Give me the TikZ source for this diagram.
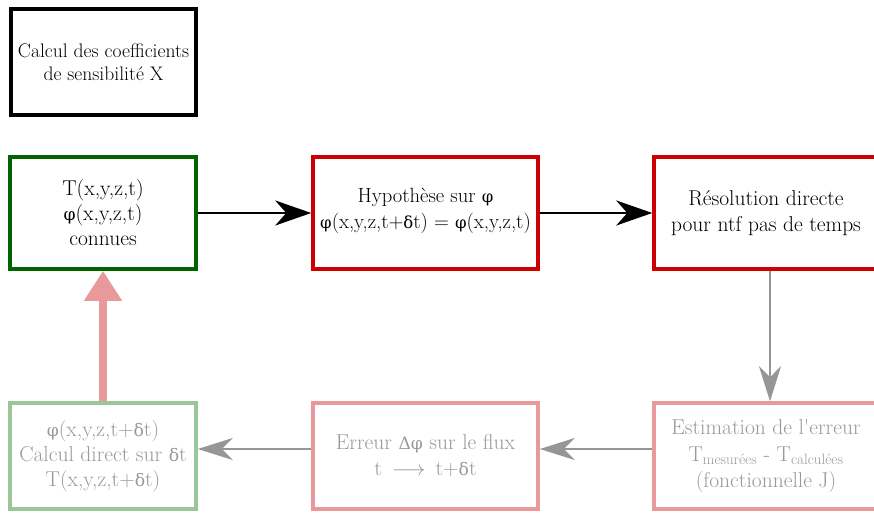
\documentclass[tikz,border=0pt]{standalone}
\usepackage{fontspec}
\newfontfamily\grk{DejaVu Serif}[Scale=0.8]
\newcommand{\gphi}{{\grk φ}}
\newcommand{\gdel}{{\grk δ}}
\newcommand{\gDel}{{\grk Δ}}
\usetikzlibrary{arrows.meta}
\definecolor{dgreen}{RGB}{0,100,0}
\definecolor{dred}{RGB}{204,0,0}
\definecolor{lgreen}{RGB}{153,199,153}
\definecolor{lpink}{RGB}{232,153,154}
\definecolor{tgray}{RGB}{153,153,153}
\definecolor{agray}{RGB}{150,150,150}
\tikzset{
  box/.style={draw, line width=3.5pt, align=center, inner sep=0pt,
    font=\fontsize{21.5}{26}\selectfont},
  darrow/.style={line width=2.4pt, -{Stealth[length=36pt,width=25pt,inset=11pt]}},
  garrow/.style={line width=1.8pt, draw=agray, -{Stealth[length=35pt,width=22pt,inset=11pt,color=agray]}},
}
\begin{document}
\begin{tikzpicture}[x=1pt,y=-1pt]
\useasboundingbox (0,0) rectangle (874,513);
\clip (0,0) rectangle (874,513);
\fill[white] (0,0) rectangle (874,513);
\node[box, draw=black, minimum width=185pt, minimum height=106pt,
  font=\fontsize{19.6}{23.5}\selectfont] (calc) at (103.5,62) {Calcul des coefficients\\de sensibilité X};
\node[box, draw=dgreen, minimum width=186pt, minimum height=112pt,
  font=\fontsize{21.5}{25}\selectfont] (known) at (103,213) {T(x,y,z,t)\\\gphi(x,y,z,t)\\connues};
\node[box, draw=dred, minimum width=225pt, minimum height=112pt,
  font=\fontsize{20.6}{26}\selectfont] (hyp) at (425.5,213) {Hypothèse sur \gphi\\\gphi(x,y,z,t+\gdel t) = \gphi(x,y,z,t)\\[-16pt]\mbox{}};
\node[box, draw=dred, minimum width=224pt, minimum height=112pt] (res) at (766,213) {Résolution directe\\pour ntf pas de temps};
\node[box, draw=lpink, text=tgray, minimum width=224pt, minimum height=106pt] (est) at (766,456) {Estimation de l\textquotesingle erreur\\[1pt]T\textsubscript{mesurées} - T\textsubscript{calculées}\\(fonctionnelle J)};
\node[box, draw=lpink, text=tgray, minimum width=225pt, minimum height=106pt] (err) at (425.5,456) {Erreur \gDel\gphi{} sur le flux\\t \,{\color{agray}$\longrightarrow$}\, t+\gdel t};
\node[box, draw=lgreen, text=tgray, minimum width=186pt, minimum height=106pt,
  font=\fontsize{21.5}{25}\selectfont] (dir) at (103,456) {\gphi(x,y,z,t+\gdel t)\\Calcul direct sur \gdel t\\T(x,y,z,t+\gdel t)};
\draw[darrow] (known.east) -- (hyp.west);
\draw[darrow] (hyp.east) -- (res.west);
\draw[garrow] ([xshift=4pt]res.south) -- ([xshift=4pt]est.north);
\draw[garrow] ([yshift=7pt]est.west) -- ([yshift=7pt]err.east);
\draw[garrow] ([yshift=7pt]err.west) -- ([yshift=7pt]dir.east);
\draw[draw=lpink, line width=8pt, -{Triangle[length=30pt,width=36pt,color=lpink]}] (dir.north) -- (known.south);
\end{tikzpicture}
\end{document}
